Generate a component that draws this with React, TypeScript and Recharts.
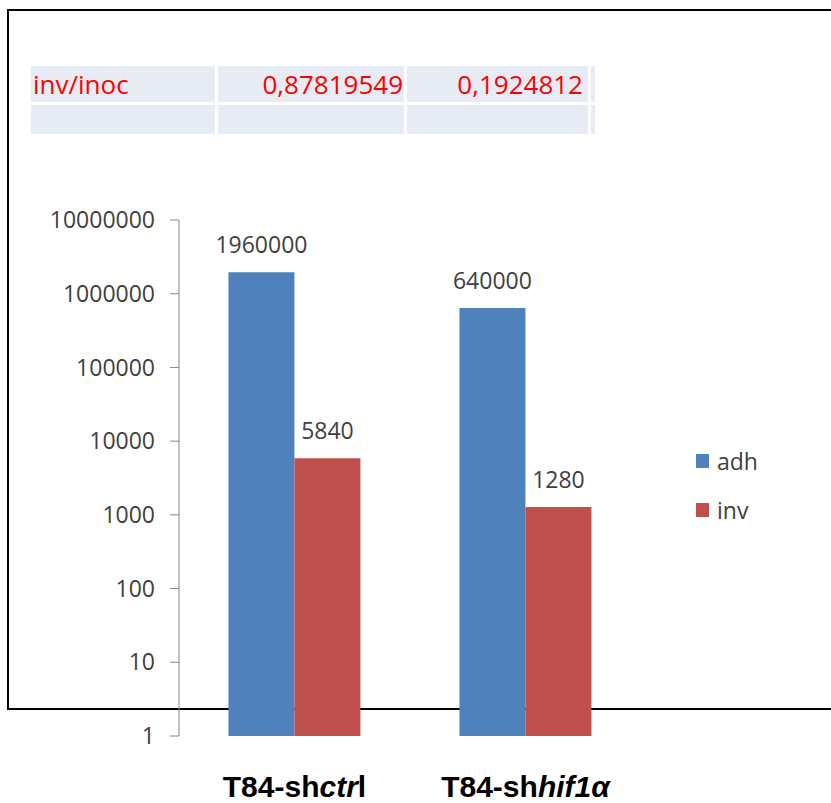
import { BarChart, Bar, XAxis, YAxis, LabelList } from "recharts";

// categories split so part of each name can be italic
const categories = ["T84-shctrl", "T84-shhif1α"];
const categoryPrefix = ["T84-sh", "T84-sh"];
const categoryItalic = ["ctr", "hif1α"];
const categorySuffix = ["l", ""];

const adhValues = [1960000, 640000];
const invValues = [5840, 1280];

const yTicks = [1, 10, 100, 1000, 10000, 100000, 1000000, 10000000];

const ratioLabel = "inv/inoc";
const ratioValues = ["0,87819549", "0,1924812"];

const series = [
  { key: "adh", name: "adh", color: "#4F81BD" },
  { key: "inv", name: "inv", color: "#C0504D" },
];

const data = categories.map((name, i) => ({
  name,
  adh: adhValues[i],
  inv: invValues[i],
}));

const FONT = "'Open Sans', sans-serif";
const TEXT = "#404040";

const CategoryTick = (props: any) => {
  const { x, y, index } = props;
  return (
    <text
      x={x}
      y={y + 61}
      textAnchor="middle"
      fontFamily="'Liberation Sans', Arial, sans-serif"
      fontWeight="bold"
      fontSize={30}
      fill="#000"
    >
      <tspan>{categoryPrefix[index]}</tspan>
      <tspan fontStyle="italic">{categoryItalic[index]}</tspan>
      <tspan>{categorySuffix[index]}</tspan>
    </text>
  );
};

const cellBg = "#E7EBF3";

export default function App() {
  return (
    <div
      style={{
        position: "absolute",
        left: 0,
        top: 0,
        width: 831,
        height: 803,
        background: "#fff",
        overflow: "hidden",
      }}
    >
      {/* outer frame, right edge runs off the page */}
      <div
        style={{
          position: "absolute",
          left: 7,
          top: 9,
          width: 840,
          height: 697,
          border: "2px solid #000",
        }}
      />

      {/* ratio table */}
      <div
        style={{
          position: "absolute",
          left: 31,
          top: 66,
          fontFamily: FONT,
          fontSize: 26,
          color: "#FF0000",
        }}
      >
        <div style={{ display: "flex", gap: 3, height: 36 }}>
          <div
            style={{
              width: 184,
              background: cellBg,
              lineHeight: "36px",
              paddingLeft: 2,
              boxSizing: "border-box",
            }}
          >
            {ratioLabel}
          </div>
          {ratioValues.map((v, i) => (
            <div
              key={i}
              style={{
                width: i === 0 ? 186 : 181,
                background: cellBg,
                lineHeight: "36px",
                textAlign: "right",
                paddingRight: i === 0 ? 1 : 5,
                boxSizing: "border-box",
              }}
            >
              {v}
            </div>
          ))}
          <div style={{ width: 4, background: cellBg }} />
        </div>
        <div style={{ display: "flex", gap: 3, height: 29, marginTop: 3 }}>
          <div style={{ width: 184, background: cellBg }} />
          <div style={{ width: 186, background: cellBg }} />
          <div style={{ width: 181, background: cellBg }} />
          <div style={{ width: 4, background: cellBg }} />
        </div>
      </div>

      <div style={{ position: "absolute", left: 0, top: 0 }}>
        <BarChart
          width={831}
          height={803}
          data={data}
          margin={{ top: 220, right: 190, left: 0, bottom: 7 }}
          barCategoryGap="21.4%"
          barGap={0}
        >
          <YAxis
            scale="log"
            domain={[1, 10000000]}
            ticks={yTicks}
            interval={0}
            width={179}
            tickSize={9}
            tickMargin={15}
            axisLine={{ stroke: "#868686" }}
            tickLine={{ stroke: "#868686" }}
            tick={{ fill: TEXT, fontSize: 23, fontFamily: FONT }}
          />
          <XAxis
            dataKey="name"
            height={60}
            axisLine={false}
            tickLine={false}
            tickSize={0}
            tickMargin={0}
            tick={<CategoryTick />}
            interval={0}
          />
          {series.map((s) => (
            <Bar
              key={s.key}
              dataKey={s.key}
              name={s.name}
              fill={s.color}
              isAnimationActive={false}
            >
              <LabelList
                dataKey={s.key}
                position="top"
                offset={19}
                fill={TEXT}
                fontSize={23}
                fontFamily={FONT}
              />
            </Bar>
          ))}
        </BarChart>
      </div>

      {/* legend */}
      <div
        style={{
          position: "absolute",
          left: 696,
          top: 446,
          fontFamily: FONT,
          fontSize: 23,
          color: TEXT,
        }}
      >
        {series.map((s) => (
          <div
            key={s.key}
            style={{ display: "flex", alignItems: "center", height: 29, marginBottom: 20 }}
          >
            <span
              style={{
                display: "inline-block",
                width: 13,
                height: 14,
                background: s.color,
                marginRight: 8,
              }}
            />
            <span>{s.name}</span>
          </div>
        ))}
      </div>
    </div>
  );
}
